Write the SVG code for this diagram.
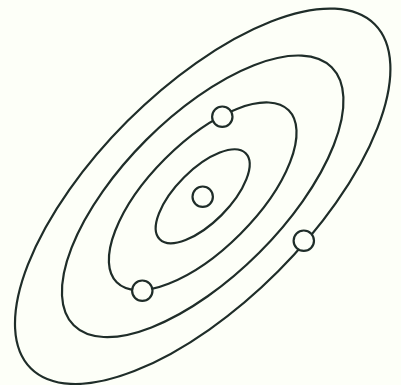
<svg xmlns="http://www.w3.org/2000/svg" width="401" height="385" viewBox="0 0 401 385">
<style>
.orbit{fill:none;stroke:#1f2d29;stroke-width:2.2}
.dot{fill:#fdfff8;stroke:#1f2d29;stroke-width:2.2}
</style>
<rect width="401" height="385" fill="#fdfff8"/>
<g id="orbits" transform="translate(202.7 196.3) rotate(-45)">
<ellipse class="orbit" cx="0" cy="0" rx="60.8" ry="26.6"/>
<ellipse class="orbit" cx="0" cy="0" rx="121.6" ry="53.2"/>
<ellipse class="orbit" cx="0" cy="0" rx="182.4" ry="79.8"/>
<ellipse class="orbit" cx="0" cy="0" rx="243.2" ry="106.4"/>
</g>
<g id="center"><circle class="dot" cx="202.7" cy="196.7" r="10.2"/></g>
<g id="p1"><circle class="dot" cx="222.3" cy="116.7" r="10.2"/></g>
<g id="p2"><circle class="dot" cx="142.3" cy="290.7" r="10.2"/></g>
<g id="p3"><circle class="dot" cx="303.8" cy="240.7" r="10.2"/></g>
</svg>
